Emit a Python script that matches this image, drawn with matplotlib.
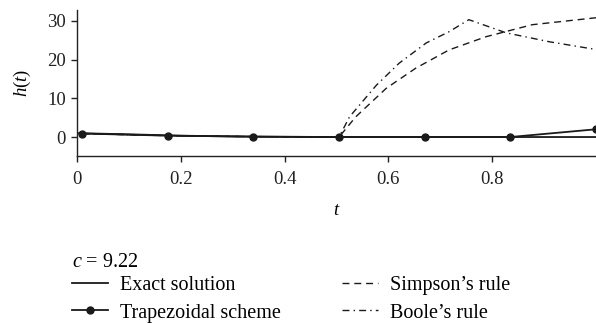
import matplotlib
matplotlib.use('Agg')
import matplotlib.pyplot as plt

plt.rcParams['font.family'] = ['Liberation Serif', 'DejaVu Serif']
plt.rcParams['mathtext.fontset'] = 'custom'
plt.rcParams['mathtext.rm'] = 'Liberation Serif'
plt.rcParams['mathtext.it'] = 'Liberation Serif:italic'
plt.rcParams['font.size'] = 13.5

# Exact solution
t_exact = [0.0, 0.1, 0.2, 0.3, 0.4, 0.5, 0.6, 0.7, 0.8, 0.9, 1.0]
h_exact = [1.0, 0.7, 0.35, 0.15, 0.05, 0.0, 0.0, 0.0, 0.0, 0.0, 0.0]

# Trapezoidal scheme
t_trap = [0.01, 0.175, 0.34, 0.505, 0.67, 0.835, 1.0]
h_trap = [0.9, 0.35, 0.1, 0.0, 0.0, 0.0, 2.0]

# Simpson's rule
t_simp = [0.01, 0.175, 0.34, 0.505, 0.537, 0.596, 0.653, 0.717, 0.788, 0.877, 1.0]
h_simp = [0.9, 0.35, 0.1, 0.0, 5.2, 12.6, 17.8, 22.5, 25.9, 29.0, 30.8]

# Boole's rule
t_boole = [0.01, 0.175, 0.34, 0.505, 0.525, 0.577, 0.621, 0.673, 0.717, 0.755, 0.827, 0.91, 1.0]
h_boole = [0.9, 0.35, 0.1, 0.0, 5.2, 13.4, 19.1, 24.3, 27.2, 30.3, 26.9, 24.6, 22.6]

xticks = [0, 0.2, 0.4, 0.6, 0.8]
xtick_labels = ['0', '0.2', '0.4', '0.6', '0.8']
yticks = [0, 10, 20, 30]

fig = plt.figure(figsize=(5.96, 3.23), dpi=100)
ax = fig.add_axes([77 / 596, 1 - 156 / 323, 1 - 77 / 596, (156 - 10) / 323])

l_exact, = ax.plot(t_exact, h_exact, color='#1a1a1a', lw=1.3, label='Exact solution')
l_trap, = ax.plot(t_trap, h_trap, color='#1a1a1a', lw=1.3, marker='o', ms=5,
                  label='Trapezoidal scheme')
l_simp, = ax.plot(t_simp, h_simp, color='#1a1a1a', lw=1.0, ls=(0, (5, 3.5)),
                  label="Simpson\u2019s rule")
l_boole, = ax.plot(t_boole, h_boole, color='#1a1a1a', lw=1.0, ls=(0, (5, 3, 1, 3)),
                   label="Boole\u2019s rule")

ax.set_xlim(0, 1.0)
ax.set_ylim(-4.9, 32.8)
ax.set_xticks(xticks)
ax.set_xticklabels(xtick_labels)
ax.set_yticks(yticks)
for s in ['top', 'right']:
    ax.spines[s].set_visible(False)
for s in ['left', 'bottom']:
    ax.spines[s].set_linewidth(1.0)
    ax.spines[s].set_color('#222222')
ax.tick_params(direction='out', length=4, width=1.0, colors='#222222')
ax.tick_params(axis='x', pad=7)
ax.tick_params(axis='y', pad=4)
ax.set_xlabel('$t$', labelpad=10)
ax.set_ylabel('$h(t)$', labelpad=10)

leg = fig.legend(handles=[l_exact, l_trap, l_simp, l_boole], ncol=2,
                 loc='upper left', bbox_to_anchor=(58 / 596, 1 - 239 / 323),
                 frameon=False, title='$c$ = 9.22', title_fontsize=14.5,
                 fontsize=14.5, alignment='left', handlelength=1.8,
                 handletextpad=0.6, columnspacing=3.0, labelspacing=0.4,
                 borderpad=0.2)
leg._legend_box.sep = 3

fig.savefig('out.png', dpi=100)
